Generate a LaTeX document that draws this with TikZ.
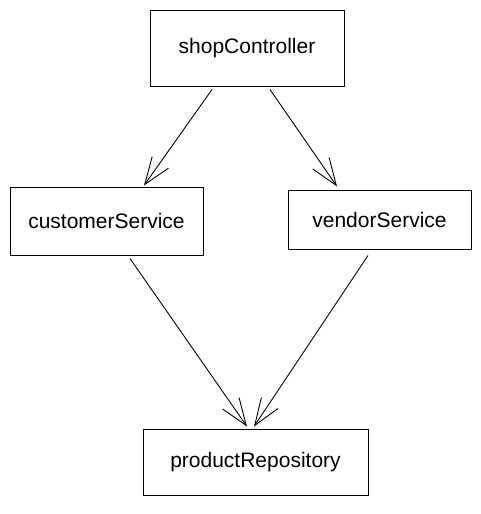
\documentclass[tikz,border=0pt]{standalone}
\usepackage{fontspec}
\setmainfont{Liberation Sans}
\usetikzlibrary{arrows.meta}
\tikzset{
  bean/.style={draw, line width=1pt, inner sep=0pt, font=\fontsize{21}{24}\selectfont},
  dep/.style={line width=0.9pt, -{Straight Barb[length=27pt,width=20pt,line width=0.9pt]}}
}
\begin{document}
\begin{tikzpicture}
\useasboundingbox (0,0) rectangle (480pt,-514pt);

% コントローラ
\node[bean, minimum width=194pt, minimum height=76pt] (ctrl) at (247pt,-48pt) {shopController};

% サービス
\node[bean, minimum width=193pt, minimum height=68pt] (cust) at (106.5pt,-221pt) {customerService};
\node[bean, minimum width=183pt, minimum height=59pt] (vend) at (379.5pt,-219.5pt) {vendorService};

% リポジトリ
\node[bean, minimum width=225pt, minimum height=66pt] (repo) at (255.5pt,-462pt) {productRepository};

% コントローラ--サービス
\draw[dep] ([xshift=-35pt,yshift=-3pt]ctrl.south) -- ([xshift=37.5pt,yshift=1pt]cust.north);
\draw[dep] ([xshift=23pt,yshift=-3pt]ctrl.south) -- ([xshift=-42.5pt,yshift=3pt]vend.north);

% サービス--リポジトリ
\draw[dep] ([xshift=23.5pt,yshift=-3pt]cust.south) -- ([xshift=-8.5pt,yshift=2pt]repo.north);
\draw[dep] ([xshift=-11.5pt,yshift=-6pt]vend.south) -- ([xshift=-1.5pt,yshift=2pt]repo.north);
\end{tikzpicture}
\end{document}
